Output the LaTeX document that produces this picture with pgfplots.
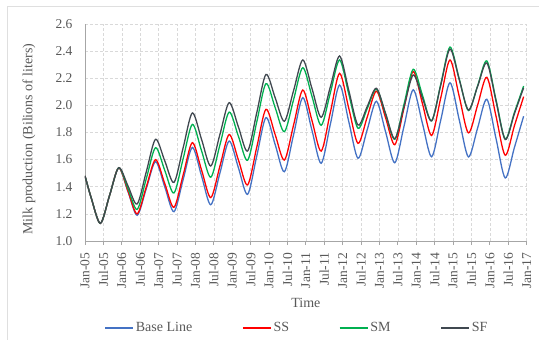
\documentclass[border=0pt]{standalone}
\usepackage{fontspec}
\setmainfont{Liberation Serif}
\usepackage{pgfplots}
\pgfplotsset{compat=1.18}
\definecolor{cBase}{HTML}{4472C4}
\definecolor{cSS}{HTML}{FF0000}
\definecolor{cSM}{HTML}{00B050}
\definecolor{cSF}{HTML}{404850}
\definecolor{txt}{HTML}{595959}
\definecolor{gridc}{HTML}{D9D9D9}
\definecolor{axc}{HTML}{A6A6A6}
\begin{document}
\begin{tikzpicture}
\useasboundingbox (-85pt,-99pt) rectangle (454pt,241pt);
\draw[gray!25, line width=0.8pt] (-78pt,-120pt) -- (-78pt,235pt) -- (470pt,235pt);
\begin{axis}[
 at={(0pt,0pt)}, anchor=south west,
 scale only axis, width=441.7pt, height=217pt,
 xmin=0, xmax=144, ymin=1.0, ymax=2.6,
 axis lines=left, axis line style={-, draw=axc, line width=0.8pt},
 xtick={0,6,...,144},
 xticklabels={Jan-05,Jul-05,Jan-06,Jul-06,Jan-07,Jul-07,Jan-08,Jul-08,Jan-09,Jul-09,Jan-10,Jul-10,Jan-11,Jul-11,Jan-12,Jul-12,Jan-13,Jul-13,Jan-14,Jul-14,Jan-15,Jul-15,Jan-16,Jul-16,Jan-17},
 ytick={1,1.2,1.4,1.6,1.8,2,2.2,2.4,2.6},
 yticklabel style={/pgf/number format/.cd, fixed, fixed zerofill, precision=1},
 /pgf/number format/assume math mode=true,
 tick label style={font=\fontsize{13.5}{15}\selectfont, text=txt},
 x tick label style={rotate=90, anchor=east},
 xticklabel shift=4pt, yticklabel shift=5pt,
 xtick style={draw=axc, line width=0.8pt}, major tick length=4pt, tick align=outside,
 ytick style={draw=none},
 grid=major, major grid style={draw=gridc, dash pattern=on 3pt off 2pt, line width=0.6pt},
 xlabel={Time}, ylabel={Milk production (Bilions of liters)},
 every axis x label/.style={at={(axis description cs:0.5,-0.286)}, anchor=center, font=\fontsize{14}{16}\selectfont, text=txt},
 every axis y label/.style={at={(axis description cs:-0.127,0.47)}, rotate=90, anchor=center, font=\fontsize{14}{16}\selectfont, text=txt},
 legend style={draw=none, fill=none, legend columns=4, at={(axis description cs:0.48,-0.401)}, anchor=center, font=\fontsize{14}{16}\selectfont, text=txt, /tikz/every even column/.append style={column sep=48pt}},
 legend image code/.code={\draw[#1] (0pt,0pt) -- (28pt,0pt);},
 every axis plot/.append style={line width=1.3pt, smooth},
]
\addplot[cBase] coordinates {
(0,1.48)(2,1.32)(5,1.13)(8,1.335)(11,1.54)(14,1.365)(17,1.19)(20,1.388)(23,1.585)(26,1.40)(29,1.216)(32,1.453)(35,1.69)(38,1.479)(41,1.267)(44,1.502)(47,1.737)(50,1.541)(53,1.344)(56,1.627)(59,1.91)(62,1.711)(65,1.511)(68,1.784)(71,2.057)(74,1.815)(77,1.573)(80,1.862)(83,2.15)(86,1.88)(89,1.61)(92,1.82)(95,2.03)(98,1.804)(101,1.577)(104,1.846)(107,2.115)(110,1.868)(113,1.621)(116,1.894)(119,2.167)(122,1.894)(125,1.62)(128,1.833)(131,2.045)(134,1.755)(137,1.465)(140,1.69)(143,1.92)};
\addlegendentry{Base Line}
\addplot[cSS] coordinates {
(0,1.48)(2,1.32)(5,1.13)(8,1.335)(11,1.54)(14,1.37)(17,1.20)(20,1.40)(23,1.60)(26,1.424)(29,1.248)(32,1.487)(35,1.725)(38,1.523)(41,1.32)(44,1.553)(47,1.785)(50,1.599)(53,1.413)(56,1.692)(59,1.971)(62,1.784)(65,1.597)(68,1.855)(71,2.113)(74,1.888)(77,1.663)(80,1.95)(83,2.236)(86,1.978)(89,1.72)(92,1.913)(95,2.105)(98,1.908)(101,1.71)(104,1.98)(107,2.25)(110,2.014)(113,1.778)(116,2.057)(119,2.335)(122,2.066)(125,1.797)(128,2.002)(131,2.207)(134,1.92)(137,1.632)(140,1.85)(143,2.064)};
\addlegendentry{SS}
\addplot[cSM] coordinates {
(0,1.48)(2,1.32)(5,1.13)(8,1.335)(11,1.54)(14,1.387)(17,1.233)(20,1.461)(23,1.688)(26,1.521)(29,1.354)(32,1.607)(35,1.86)(38,1.665)(41,1.47)(44,1.71)(47,1.95)(50,1.773)(53,1.595)(56,1.878)(59,2.16)(62,1.983)(65,1.806)(68,2.042)(71,2.278)(74,2.066)(77,1.853)(80,2.094)(83,2.335)(86,2.083)(89,1.831)(92,1.976)(95,2.12)(98,1.935)(101,1.75)(104,2.008)(107,2.266)(110,2.076)(113,1.886)(116,2.158)(119,2.43)(122,2.196)(125,1.962)(128,2.145)(131,2.328)(134,2.041)(137,1.753)(140,1.948)(143,2.143)};
\addlegendentry{SM}
\addplot[cSF] coordinates {
(0,1.48)(2,1.32)(5,1.13)(8,1.335)(11,1.54)(14,1.407)(17,1.273)(20,1.512)(23,1.75)(26,1.591)(29,1.432)(32,1.688)(35,1.944)(38,1.749)(41,1.553)(44,1.787)(47,2.02)(50,1.842)(53,1.663)(56,1.946)(59,2.228)(62,2.056)(65,1.883)(68,2.109)(71,2.335)(74,2.124)(77,1.912)(80,2.138)(83,2.364)(86,2.11)(89,1.855)(92,1.991)(95,2.126)(98,1.94)(101,1.754)(104,1.989)(107,2.224)(110,2.055)(113,1.886)(116,2.151)(119,2.415)(122,2.191)(125,1.966)(128,2.14)(131,2.313)(134,2.031)(137,1.748)(140,1.939)(143,2.13)};
\addlegendentry{SF}
\end{axis}
\end{tikzpicture}
\end{document}
